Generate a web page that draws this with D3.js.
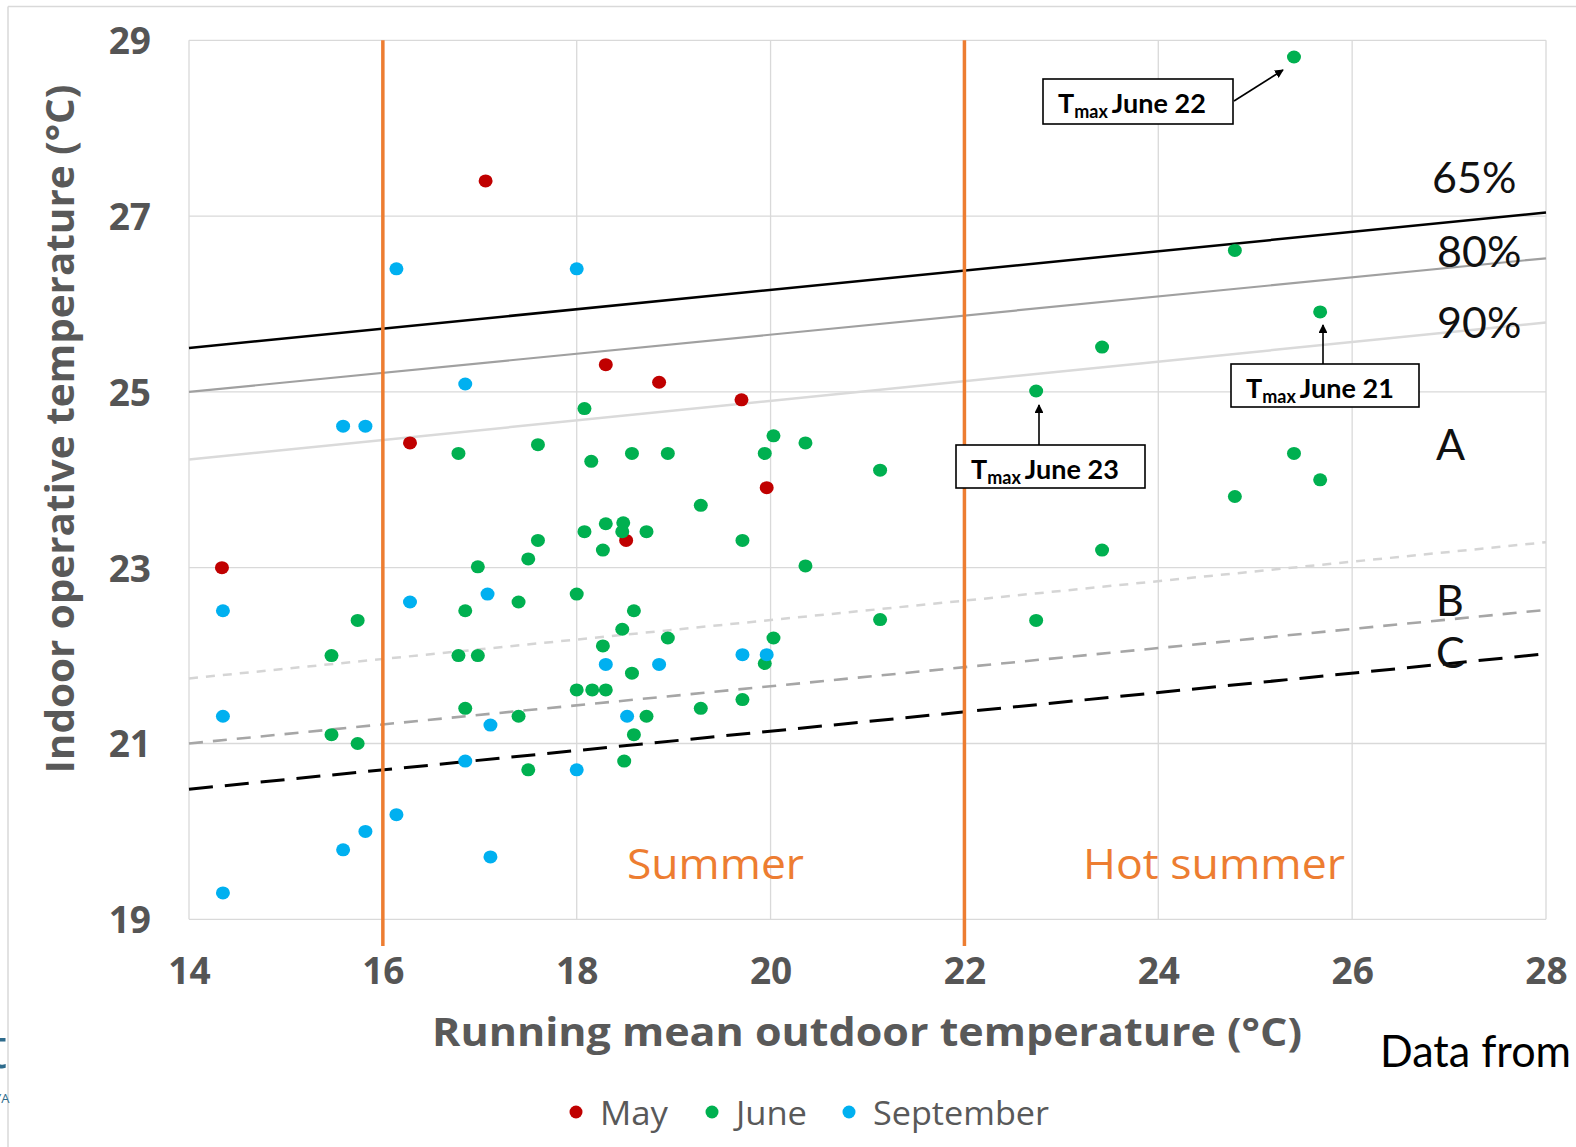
<!DOCTYPE html>
<html>
<head>
<meta charset="utf-8">
<script src="https://cdn.jsdelivr.net/npm/d3@7/dist/d3.min.js"></script>
<style>
  html, body { margin: 0; padding: 0; background: #fff; }
  svg { display: block; }
</style>
</head>
<body>
<svg id="chart" width="1576" height="1147"></svg>
<script>
// ---------------- DATA ----------------
const seriesNames = ["May", "June", "September"];

const mayPoints = [
  [14.34, 23.0], [17.06, 27.4], [16.28, 24.42], [18.30, 25.31], [18.85, 25.11],
  [19.70, 24.91], [19.96, 23.91], [18.51, 23.31]
];

const junePoints = [
  [25.40, 28.81], [24.79, 26.61], [25.67, 25.91], [23.42, 25.51], [22.74, 25.01],
  [25.40, 24.30], [25.67, 24.00], [24.79, 23.81], [23.42, 23.20], [22.74, 22.40],
  [21.13, 24.11], [21.13, 22.41], [20.36, 24.42], [20.36, 23.02], [20.03, 24.50],
  [19.94, 24.30], [20.03, 22.20], [19.94, 21.91], [19.71, 23.31], [19.71, 21.50],
  [19.28, 23.71], [19.28, 21.40], [18.94, 24.30], [18.94, 22.20], [18.72, 23.41],
  [18.72, 21.31], [18.57, 24.30], [18.59, 22.51], [18.57, 21.80], [18.59, 21.10],
  [18.48, 23.51], [18.47, 23.41], [18.47, 22.30], [18.49, 20.80], [18.30, 23.50],
  [18.27, 23.20], [18.27, 22.11], [18.30, 21.61], [18.16, 21.61], [18.00, 21.61],
  [18.15, 24.21], [18.08, 24.81], [18.08, 23.41], [18.00, 22.70], [17.60, 24.40],
  [17.60, 23.31], [17.50, 23.10], [17.40, 22.61], [17.40, 21.31], [17.50, 20.70],
  [16.98, 23.01], [16.98, 22.00], [16.85, 22.51], [16.78, 24.30], [16.78, 22.00],
  [16.85, 21.40], [15.74, 22.40], [15.74, 21.00], [15.47, 22.00], [15.47, 21.10]
];

const septemberPoints = [
  [14.35, 22.51], [14.35, 21.31], [14.35, 19.30], [15.59, 24.61], [15.82, 24.61],
  [15.59, 19.79], [15.82, 20.00], [16.14, 20.19], [16.14, 26.40], [16.28, 22.61],
  [16.85, 25.09], [16.85, 20.80], [17.08, 22.70], [17.11, 21.21], [17.11, 19.71],
  [18.00, 26.40], [18.00, 20.70], [18.30, 21.90], [18.52, 21.31], [18.85, 21.90],
  [19.71, 22.01], [19.96, 22.01]
];

// comfort band lines: value at x=14 and at x=28
const bandLabels = ["65%", "80%", "90%", "A", "B", "C"];
const bandStart  = [25.50, 25.00, 24.23, 21.74, 21.00, 20.48];
const bandEnd    = [27.04, 26.52, 25.79, 23.29, 22.52, 22.02];

// season boundaries
const seasonBounds = [16, 22];
const seasonLabels = ["Summer", "Hot summer"];

// annotated points
const annotLabels = ["June 22", "June 21", "June 23"];
const annotPoints = [[25.40, 28.81], [25.67, 25.91], [22.74, 25.01]];

const xTicks = [14, 16, 18, 20, 22, 24, 26, 28];
const yTicks = [19, 21, 23, 25, 27, 29];
const xTitle = "Running mean outdoor temperature (°C)";
const yTitle = "Indoor operative temperature (°C)";
const sourceNote = "Data from";

// ---------------- DRAW ----------------
const svg = d3.select("#chart");
const W = 1576, H = 1147;
const plot = { left: 189, right: 1546, top: 40.3, bottom: 919.3 };

const x = d3.scaleLinear().domain([14, 28]).range([plot.left, plot.right]);
const y = d3.scaleLinear().domain([19, 29]).range([plot.bottom, plot.top]);

const colors = { "May": "#C00000", "June": "#00B050", "September": "#00B0F0" };
const grey = "#595959";
const orange = "#ED7D31";

svg.append("rect").attr("width", W).attr("height", H).attr("fill", "#fff");

// outer frame (slide border)
svg.append("line").attr("x1", 8).attr("x2", W).attr("y1", 6.5).attr("y2", 6.5)
  .attr("stroke", "#D9D9D9").attr("stroke-width", 1.5);
svg.append("line").attr("x1", 8).attr("x2", 8).attr("y1", 6.5).attr("y2", H)
  .attr("stroke", "#D9D9D9").attr("stroke-width", 1.5);

// gridlines
const grid = svg.append("g");
grid.selectAll("line.v").data(xTicks).join("line")
  .attr("x1", d => x(d)).attr("x2", d => x(d))
  .attr("y1", plot.top).attr("y2", plot.bottom)
  .attr("stroke", "#D9D9D9").attr("stroke-width", 1.3);
grid.selectAll("line.h").data(yTicks).join("line")
  .attr("x1", plot.left).attr("x2", plot.right)
  .attr("y1", d => y(d)).attr("y2", d => y(d))
  .attr("stroke", "#D9D9D9").attr("stroke-width", 1.3);

// axes (labels only)
const xAxis = svg.append("g").attr("transform", `translate(0,${plot.bottom})`)
  .call(d3.axisBottom(x).tickValues(xTicks).tickSize(0).tickPadding(38).tickFormat(d3.format("d")));
const yAxis = svg.append("g").attr("transform", `translate(${plot.left},0)`)
  .call(d3.axisLeft(y).tickValues(yTicks).tickSize(0).tickPadding(38).tickFormat(d3.format("d")));
[xAxis, yAxis].forEach(a => {
  a.select(".domain").remove();
  a.selectAll("text")
    .attr("font-family", "'Open Sans', sans-serif")
    .attr("font-weight", "bold")
    .attr("font-size", 37)
    .attr("fill", "#555555");
});
yAxis.selectAll("text").attr("dy", "0.36em");

// comfort lines
const bandStyles = [
  { stroke: "#000000", width: 2.5, dash: null },
  { stroke: "#A0A0A0", width: 2.2, dash: null },
  { stroke: "#DADADA", width: 2.5, dash: null },
  { stroke: "#D5D5D5", width: 2.5, dash: "9,8" },
  { stroke: "#A6A6A6", width: 2.6, dash: "14,10" },
  { stroke: "#000000", width: 3, dash: "24,12" }
];
const bandG = svg.append("g");
bandLabels.forEach((lab, i) => {
  const st = bandStyles[i];
  bandG.append("line")
    .attr("x1", x(14)).attr("y1", y(bandStart[i]))
    .attr("x2", x(28)).attr("y2", y(bandEnd[i]))
    .attr("stroke", st.stroke).attr("stroke-width", st.width)
    .attr("stroke-dasharray", st.dash);
});

// band labels (positions are layout)
const bandLabelPos = [[1432, 176], [1437, 250], [1437, 321], [1436, 443], [1436, 599], [1436, 651]];
bandLabels.forEach((lab, i) => {
  svg.append("text").attr("x", bandLabelPos[i][0]).attr("y", bandLabelPos[i][1])
    .attr("dominant-baseline", "central")
    .attr("font-family", "Lato, sans-serif").attr("font-size", 43)
    .attr("fill", "#111").text(lab);
});

// season boundary lines
svg.append("g").selectAll("line").data(seasonBounds).join("line")
  .attr("x1", d => x(d)).attr("x2", d => x(d))
  .attr("y1", plot.top).attr("y2", 946)
  .attr("stroke", orange).attr("stroke-width", 3.5);

// season labels
const seasonCenters = [715.5, 1214];
const seasonWidths = [177, 262];
seasonLabels.forEach((s, i) => {
  svg.append("text").attr("x", seasonCenters[i]).attr("y", 862)
    .attr("text-anchor", "middle").attr("dominant-baseline", "central")
    .attr("font-family", "'Open Sans', sans-serif").attr("font-size", 42)
    .attr("textLength", seasonWidths[i]).attr("lengthAdjust", "spacingAndGlyphs")
    .attr("fill", orange).text(s);
});

// points
const series = [
  { name: "May", pts: mayPoints },
  { name: "June", pts: junePoints },
  { name: "September", pts: septemberPoints }
];
series.forEach(s => {
  svg.append("g").selectAll("ellipse").data(s.pts).join("ellipse")
    .attr("cx", d => x(d[0])).attr("cy", d => y(d[1]))
    .attr("rx", 7).attr("ry", 6.5)
    .attr("fill", colors[s.name]);
});

// annotations
svg.append("defs").append("marker")
  .attr("id", "arrow").attr("viewBox", "0 0 10 10")
  .attr("refX", 9).attr("refY", 5)
  .attr("markerWidth", 5.5).attr("markerHeight", 5.5)
  .attr("markerUnits", "strokeWidth")
  .attr("orient", "auto")
  .append("path").attr("d", "M0,0 L10,5 L0,10 z").attr("fill", "#000");

const boxes = [
  { x0: 1043, y0: 79, w: 190, h: 45, from: [1234, 101], to: [1283, 70] },
  { x0: 1231, y0: 364, w: 188, h: 43, from: [1323, 364], to: [1323, 325] },
  { x0: 956, y0: 445, w: 189, h: 43, from: [1039, 445], to: [1039, 405] }
];
annotLabels.forEach((lab, i) => {
  const b = boxes[i];
  const g = svg.append("g");
  g.append("line").attr("x1", b.from[0]).attr("y1", b.from[1])
    .attr("x2", b.to[0]).attr("y2", b.to[1])
    .attr("stroke", "#000").attr("stroke-width", 1.6)
    .attr("marker-end", "url(#arrow)");
  g.append("rect").attr("x", b.x0).attr("y", b.y0).attr("width", b.w).attr("height", b.h)
    .attr("fill", "#fff").attr("stroke", "#000").attr("stroke-width", 1.6);
  const t = g.append("text").attr("x", b.x0 + 15).attr("y", b.y0 + 34)
    .attr("font-family", "Lato, sans-serif").attr("font-weight", "bold")
    .attr("font-size", 27).attr("fill", "#000");
  t.append("tspan").text("T");
  t.append("tspan").attr("font-size", 18).attr("dy", 5).text("max");
  t.append("tspan").attr("dy", -5).attr("dx", 4).text(lab);
});

// axis titles
svg.append("text").attr("x", 867).attr("y", 1030)
  .attr("text-anchor", "middle").attr("dominant-baseline", "central")
  .attr("font-family", "'Open Sans', sans-serif").attr("font-weight", "bold")
  .attr("font-size", 40).attr("fill", grey)
  .attr("textLength", 870).attr("lengthAdjust", "spacingAndGlyphs")
  .text(xTitle);
svg.append("text")
  .attr("transform", "translate(58,429) rotate(-90)")
  .attr("text-anchor", "middle").attr("dominant-baseline", "central")
  .attr("font-family", "'Open Sans', sans-serif").attr("font-weight", "bold")
  .attr("font-size", 40).attr("fill", grey)
  .attr("textLength", 689).attr("lengthAdjust", "spacingAndGlyphs")
  .text(yTitle);

// source note
svg.append("text").attr("x", 1380).attr("y", 1050)
  .attr("dominant-baseline", "central")
  .attr("font-family", "Lato, sans-serif").attr("font-size", 44)
  .attr("fill", "#000")
  .attr("textLength", 191).attr("lengthAdjust", "spacingAndGlyphs")
  .text(sourceNote);

// cropped logo fragment at left edge (partly outside the picture, as in the reference)
svg.append("text").attr("x", -13).attr("y", 1068)
  .attr("font-family", "'Open Sans', sans-serif").attr("font-size", 56)
  .attr("fill", "#2E6B8C").text("t");
svg.append("text").attr("x", -6).attr("y", 1103)
  .attr("font-family", "'Open Sans', sans-serif").attr("font-size", 13)
  .attr("fill", "#2E6B8C").text("YA");

// legend
const legendDotX = [576, 712, 849];
const legendWidths = [68, 71, 176];
const legend = svg.append("g");
seriesNames.forEach((n, i) => {
  legend.append("circle").attr("cx", legendDotX[i]).attr("cy", 1112).attr("r", 6.5)
    .attr("fill", colors[n]);
  legend.append("text").attr("x", legendDotX[i] + 24).attr("y", 1112)
    .attr("dominant-baseline", "central")
    .attr("font-family", "'Open Sans', sans-serif").attr("font-size", 32)
    .attr("textLength", legendWidths[i]).attr("lengthAdjust", "spacingAndGlyphs")
    .attr("fill", grey).text(n);
});
</script>
</body>
</html>
